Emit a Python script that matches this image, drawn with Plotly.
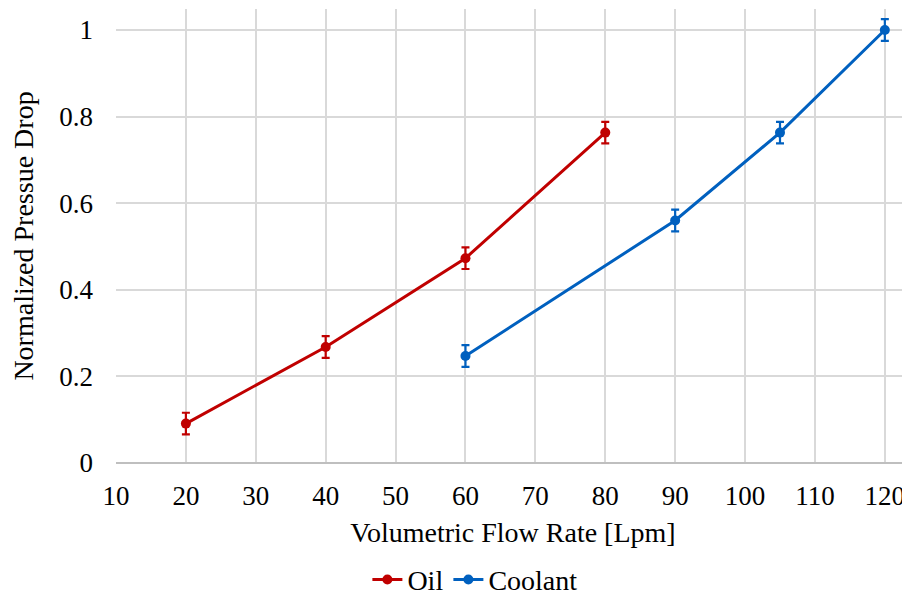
import plotly.graph_objects as go

oil_x = [20, 40, 60, 80]
oil_y = [0.091, 0.268, 0.473, 0.763]
oil_err = [0.025, 0.025, 0.025, 0.025]

cool_x = [60, 90, 105, 120]
cool_y = [0.247, 0.560, 0.763, 1.0]
cool_err = [0.025, 0.025, 0.025, 0.025]

x_ticks = [10, 20, 30, 40, 50, 60, 70, 80, 90, 100, 110, 120]
y_ticks = [0, 0.2, 0.4, 0.6, 0.8, 1]
y_tick_text = ["0", "0.2", "0.4", "0.6", "0.8", "1"]

RED = "#C00000"
BLUE = "#0060BF"
FONT = '"Liberation Serif", "Times New Roman", serif'

fig = go.Figure()
fig.add_trace(go.Scatter(
    x=oil_x, y=oil_y, name="Oil", mode="lines+markers",
    line=dict(color=RED, width=3), marker=dict(color=RED, size=10),
    error_y=dict(type="data", array=oil_err, color=RED, thickness=2.2, width=4),
))
fig.add_trace(go.Scatter(
    x=cool_x, y=cool_y, name="Coolant", mode="lines+markers",
    line=dict(color=BLUE, width=3), marker=dict(color=BLUE, size=10),
    error_y=dict(type="data", array=cool_err, color=BLUE, thickness=2.2, width=4),
))

# page body has an 8px margin, so the figure is sized/offset to compensate
fig.update_layout(
    width=902, height=592,
    margin=dict(l=108, r=0, t=1, b=137, autoexpand=False),
    paper_bgcolor="white", plot_bgcolor="white",
    font=dict(family=FONT, size=27, color="black"),
    showlegend=True,
    legend=dict(orientation="h", x=0.452, xanchor="center", yref="container", y=0.034,
                yanchor="middle", font=dict(family=FONT, size=28), itemwidth=30,
                tracegroupgap=0),
    xaxis=dict(
        range=[10, 123.6], tickvals=x_ticks, showgrid=True, gridcolor="#D9D9D9", gridwidth=1.5,
        zeroline=False, showline=False, ticks="", ticklabelstandoff=14,
        tickfont=dict(family=FONT, size=27),
        title=dict(text="Volumetric Flow Rate [Lpm]", font=dict(family=FONT, size=28), standoff=12),
    ),
    yaxis=dict(
        range=[0, 1.0485], tickvals=y_ticks, ticktext=y_tick_text, showgrid=True,
        gridcolor="#D9D9D9", gridwidth=1.5, zeroline=True, zerolinecolor="#BFBFBF", zerolinewidth=1.5,
        showline=False, ticks="", ticklabelstandoff=22,
        tickfont=dict(family=FONT, size=27),
        title=dict(text="Normalized Pressue Drop", font=dict(family=FONT, size=28), standoff=18),
    ),
)

fig.write_html("out.html")
